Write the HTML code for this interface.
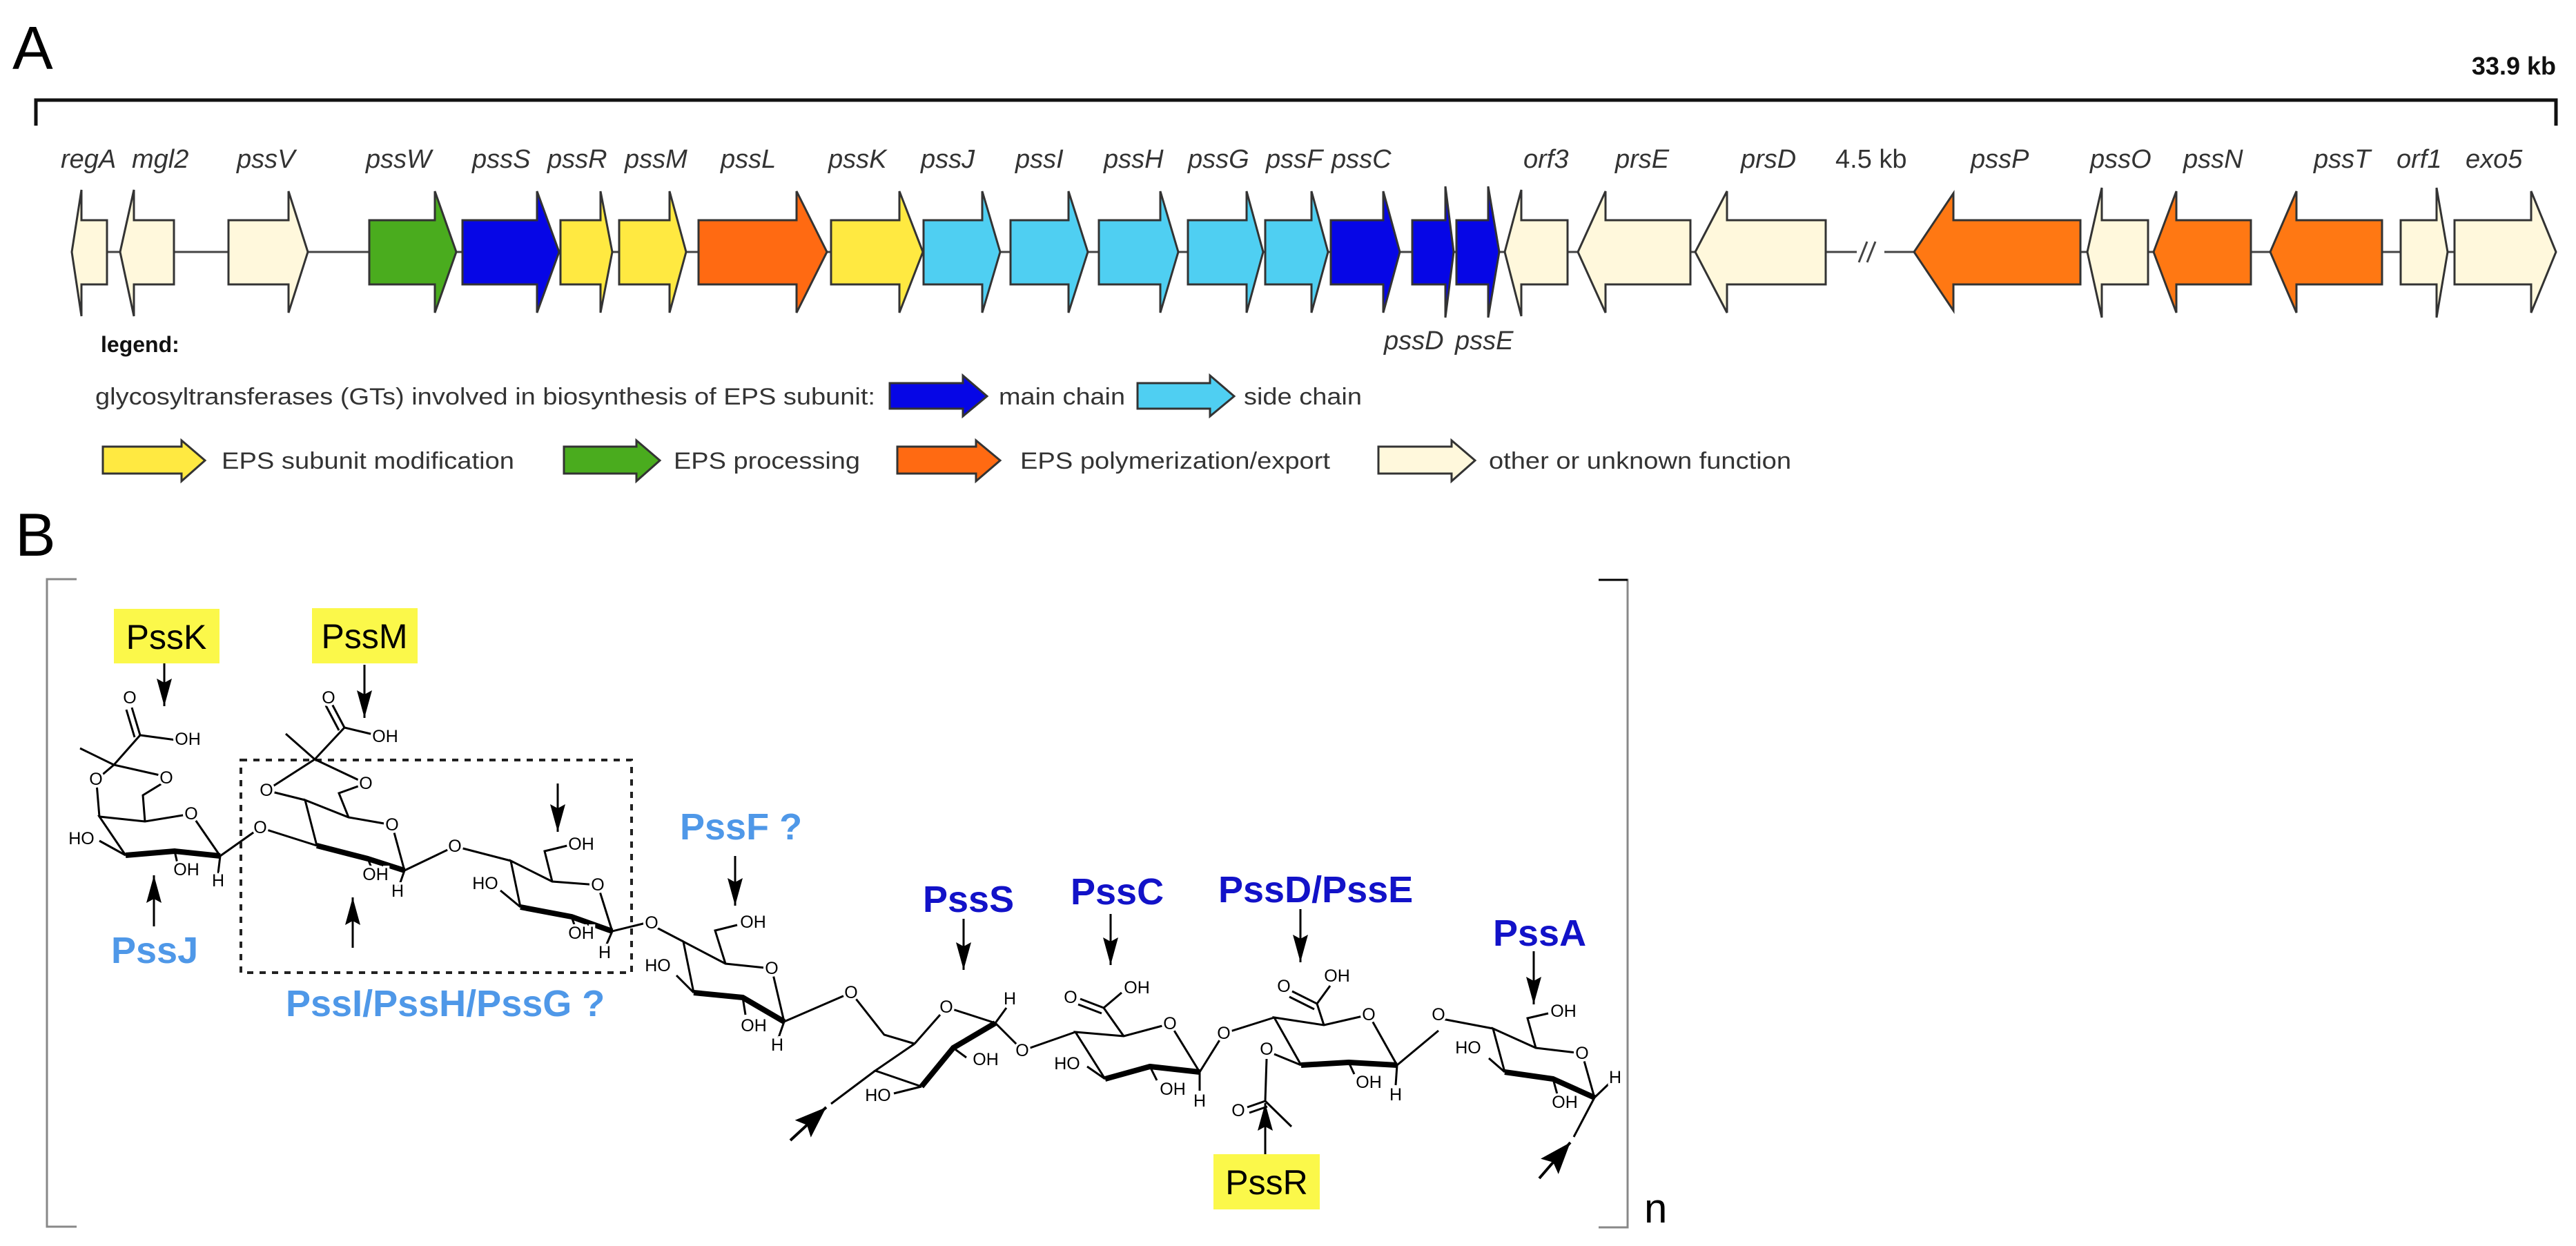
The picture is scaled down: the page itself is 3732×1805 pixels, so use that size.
<!DOCTYPE html>
<html><head><meta charset="utf-8"><style>
html,body{margin:0;padding:0;background:#fff}
svg{display:block}
text{font-family:"Liberation Sans",Arial,sans-serif}
.g{font-style:italic;font-size:38px;fill:#333}
.lg{font-size:34px;fill:#333}
.at{font-size:25px;fill:#000;stroke:#fff;stroke-width:7px;paint-order:stroke;text-anchor:middle;dominant-baseline:central}
.b{stroke:#000;stroke-width:3;fill:none}
.k{stroke:#000;stroke-width:8;fill:none;stroke-linejoin:round}
.lb{font-weight:bold;font-size:54px;fill:#4f98e8}
.db{font-weight:bold;font-size:54px;fill:#1212c8}
.yb{font-size:50px;fill:#000;text-anchor:middle}
.oc{fill:#fff}
</style></head><body>
<svg width="3732" height="1805" viewBox="0 0 3732 1805" xmlns="http://www.w3.org/2000/svg">
<defs>
<marker id="ah" viewBox="0 0 40 22" refX="40" refY="11" markerWidth="40" markerHeight="22" markerUnits="userSpaceOnUse" orient="auto"><path d="M0,0 L40,11 L0,22 L6,11 Z" fill="#000"/></marker>
<marker id="ah2" viewBox="0 0 46 34" refX="46" refY="17" markerWidth="46" markerHeight="34" markerUnits="userSpaceOnUse" orient="auto"><path d="M0,0 L46,17 L0,34 L8,17 Z" fill="#000"/></marker>
</defs>
<!-- Panel A -->
<text x="18" y="100" font-size="88" fill="#000">A</text>
<text x="3703" y="108" font-size="36" font-weight="bold" text-anchor="end" fill="#111">33.9 kb</text>
<polyline points="52,182 52,145 3703,145 3703,182" fill="none" stroke="#111" stroke-width="5"/>
<line x1="104" y1="365" x2="3703" y2="365" stroke="#444" stroke-width="3"/>
<rect x="2690" y="350" width="40" height="30" fill="#fff"/>
<line x1="2693" y1="380" x2="2705" y2="350" stroke="#444" stroke-width="3"/>
<line x1="2705" y1="380" x2="2717" y2="350" stroke="#444" stroke-width="3"/>
<g stroke="#333" stroke-width="3" stroke-linejoin="miter">
<polygon fill="#fff8dc" points="104,365 118,275 118,319 155,319 155,412 118,412 118,458"/>
<polygon fill="#fff8dc" points="174,365 194,275 194,319 252,319 252,412 194,412 194,458"/>
<polygon fill="#fff8dc" points="331,319 418,319 418,277 446,365 418,453 418,412 331,412"/>
<polygon fill="#4aac1e" points="535,319 630,319 630,277 661,365 630,453 630,412 535,412"/>
<polygon fill="#0606e6" points="670,319 778,319 778,277 810,365 778,453 778,412 670,412"/>
<polygon fill="#ffe941" points="812,319 870,319 870,277 887,365 870,453 870,412 812,412"/>
<polygon fill="#ffe941" points="897,319 970,319 970,277 994,365 970,453 970,412 897,412"/>
<polygon fill="#ff6a12" points="1012,319 1154,319 1154,277 1198,365 1154,453 1154,412 1012,412"/>
<polygon fill="#ffe941" points="1204,319 1303,319 1303,277 1337,365 1303,453 1303,412 1204,412"/>
<polygon fill="#4fcff2" points="1338,319 1423,319 1423,277 1449,365 1423,453 1423,412 1338,412"/>
<polygon fill="#4fcff2" points="1464,319 1548,319 1548,277 1576,365 1548,453 1548,412 1464,412"/>
<polygon fill="#4fcff2" points="1592,319 1681,319 1681,277 1707,365 1681,453 1681,412 1592,412"/>
<polygon fill="#4fcff2" points="1721,319 1806,319 1806,277 1830,365 1806,453 1806,412 1721,412"/>
<polygon fill="#4fcff2" points="1833,319 1900,319 1900,277 1924,365 1900,453 1900,412 1833,412"/>
<polygon fill="#0606e6" points="1928,319 2004,319 2004,277 2028,365 2004,453 2004,412 1928,412"/>
<polygon fill="#0606e6" points="2046,319 2094,319 2094,270 2106,365 2094,460 2094,412 2046,412"/>
<polygon fill="#0606e6" points="2110,319 2156,319 2156,270 2172,365 2156,460 2156,412 2110,412"/>
<polygon fill="#fff8dc" points="2180,365 2204,275 2204,319 2271,319 2271,412 2204,412 2204,458"/>
<polygon fill="#fff8dc" points="2286,365 2326,277 2326,319 2449,319 2449,412 2326,412 2326,453"/>
<polygon fill="#fff8dc" points="2456,365 2502,277 2502,319 2645,319 2645,412 2502,412 2502,453"/>
<polygon fill="#ff7813" points="2773,365 2830,280 2830,319 3014,319 3014,412 2830,412 2830,450"/>
<polygon fill="#fff8dc" points="3024,365 3045,272 3045,319 3112,319 3112,412 3045,412 3045,460"/>
<polygon fill="#ff7813" points="3120,365 3153,277 3153,319 3261,319 3261,412 3153,412 3153,453"/>
<polygon fill="#ff7813" points="3289,365 3327,277 3327,319 3451,319 3451,412 3327,412 3327,453"/>
<polygon fill="#fff8dc" points="3478,319 3530,319 3530,272 3546,365 3530,460 3530,412 3478,412"/>
<polygon fill="#fff8dc" points="3556,319 3667,319 3667,277 3703,365 3667,453 3667,412 3556,412"/>
</g>
<g class="g">
<text x="88" y="243">regA</text><text x="191" y="243">mgl2</text><text x="343" y="243">pssV</text>
<text x="530" y="243">pssW</text><text x="684" y="243">pssS</text><text x="793" y="243">pssR</text>
<text x="905" y="243">pssM</text><text x="1044" y="243">pssL</text><text x="1200" y="243">pssK</text>
<text x="1334" y="243">pssJ</text><text x="1471" y="243">pssI</text><text x="1599" y="243">pssH</text>
<text x="1721" y="243">pssG</text><text x="1834" y="243">pssF</text><text x="1929" y="243">pssC</text>
<text x="2207" y="243">orf3</text><text x="2340" y="243">prsE</text><text x="2522" y="243">prsD</text>
<text x="2659" y="243" font-style="normal">4.5 kb</text><text x="2855" y="243">pssP</text><text x="3028" y="243">pssO</text>
<text x="3163" y="243">pssN</text><text x="3352" y="243">pssT</text><text x="3472" y="243">orf1</text>
<text x="3572" y="243">exo5</text>
<text x="2005" y="506">pssD</text><text x="2108" y="506">pssE</text>
</g>
<text x="146" y="510" font-size="32" font-weight="bold" fill="#111">legend:</text>
<text class="lg" x="138" y="586" textLength="1130" lengthAdjust="spacingAndGlyphs">glycosyltransferases (GTs) involved in biosynthesis of EPS subunit:</text>
<g stroke="#333" stroke-width="3">
<polygon fill="#0606e6" points="1289,555 1395,555 1395,544 1430,574 1395,603 1395,592 1289,592"/>
<polygon fill="#4fcff2" points="1648,555 1753,555 1753,544 1788,574 1753,603 1753,592 1648,592"/>
<polygon fill="#ffe941" points="149,647 263,647 263,638 297,667 263,697 263,686 149,686"/>
<polygon fill="#4aac1e" points="817,647 922,647 922,638 956,667 922,697 922,686 817,686"/>
<polygon fill="#ff6a12" points="1300,647 1414,647 1414,638 1449,667 1414,697 1414,686 1300,686"/>
<polygon fill="#fff8dc" points="1997,647 2103,647 2103,638 2137,667 2103,697 2103,686 1997,686"/>
</g>
<text class="lg" x="1447" y="586" textLength="183" lengthAdjust="spacingAndGlyphs">main chain</text>
<text class="lg" x="1802" y="586" textLength="171" lengthAdjust="spacingAndGlyphs">side chain</text>
<text class="lg" x="321" y="679" textLength="424" lengthAdjust="spacingAndGlyphs">EPS subunit modification</text>
<text class="lg" x="976" y="679" textLength="270" lengthAdjust="spacingAndGlyphs">EPS processing</text>
<text class="lg" x="1478" y="679" textLength="449" lengthAdjust="spacingAndGlyphs">EPS polymerization/export</text>
<text class="lg" x="2157" y="679" textLength="438" lengthAdjust="spacingAndGlyphs">other or unknown function</text>

<!-- Panel B -->
<text x="22" y="805" font-size="88" fill="#000">B</text>
<polyline points="111,839 68,839 68,1777 111,1777" fill="none" stroke="#888" stroke-width="3"/>
<polyline points="2316,840 2358,840 2358,1778 2316,1778" fill="none" stroke="#888" stroke-width="3"/>
<line x1="2316" y1="840" x2="2358" y2="840" stroke="#000" stroke-width="3"/>
<text x="2382" y="1771" font-size="60" fill="#000">n</text>

<rect x="165" y="882" width="153" height="79" fill="#fbf84a"/>
<text class="yb" x="241" y="940">PssK</text>
<rect x="452" y="881" width="153" height="80" fill="#fbf84a"/>
<text class="yb" x="528" y="939">PssM</text>
<rect x="1758" y="1672" width="154" height="80" fill="#fbf84a"/>
<text class="yb" x="1835" y="1730">PssR</text>

<rect x="349" y="1101" width="566" height="308" fill="none" stroke="#222" stroke-width="4" stroke-dasharray="9,9"/>

<g stroke="#000" stroke-width="3" marker-end="url(#ah)">
<line x1="238" y1="961" x2="238" y2="1023"/>
<line x1="528" y1="963" x2="528" y2="1040"/>
<line x1="808" y1="1135" x2="808" y2="1205"/>
<line x1="223" y1="1342" x2="223" y2="1268"/>
<line x1="511" y1="1373" x2="511" y2="1300"/>
<line x1="1065" y1="1240" x2="1065" y2="1312"/>
<line x1="1396" y1="1331" x2="1396" y2="1405"/>
<line x1="1609" y1="1324" x2="1609" y2="1398"/>
<line x1="1884" y1="1317" x2="1884" y2="1394"/>
<line x1="1833" y1="1672" x2="1833" y2="1598"/>
<line x1="2222" y1="1378" x2="2222" y2="1455"/>
</g>
<g stroke="#000" stroke-width="4" marker-end="url(#ah2)">
<line x1="1145" y1="1652" x2="1197" y2="1604"/>
<line x1="2230" y1="1707" x2="2275" y2="1655"/>
</g>

<text class="lb" x="161" y="1395">PssJ</text>
<text class="lb" x="414" y="1472">PssI/PssH/PssG ?</text>
<text class="lb" x="985" y="1216">PssF ?</text>
<text class="db" x="1337" y="1321">PssS</text>
<text class="db" x="1551" y="1310">PssC</text>
<text class="db" x="1765" y="1307">PssD/PssE</text>
<text class="db" x="2163" y="1370">PssA</text>

<!-- sugar 1 -->
<g>
<polyline class="b" points="116,1084 165,1108 236,1124"/>
<line class="b" x1="165" y1="1108" x2="203" y2="1065"/>
<line class="b" x1="165" y1="1108" x2="145" y2="1125"/>
<line class="b" x1="203" y1="1065" x2="191" y2="1025"/>
<line class="b" x1="195" y1="1068" x2="183" y2="1028"/>
<line class="b" x1="203" y1="1065" x2="255" y2="1072"/>
<line class="b" x1="140" y1="1135" x2="144" y2="1183"/>
<polyline class="b" points="238,1133 207,1152 210,1190"/>
<polyline class="b" points="182,1239 144,1183 210,1190 277,1179 319,1240"/>
<polyline class="k" points="182,1239 253,1233 319,1240"/>
<line class="b" x1="144" y1="1218" x2="182" y2="1239"/>
<line class="b" x1="253" y1="1233" x2="258" y2="1255"/>
<line class="b" x1="319" y1="1240" x2="316" y2="1265"/>
<line class="b" x1="319" y1="1240" x2="377" y2="1199"/>
</g>
<!-- sugar 2 -->
<g>
<line class="b" x1="377" y1="1199" x2="459" y2="1225"/>
<polyline class="b" points="414,1063 456,1100 530,1135"/>
<line class="b" x1="456" y1="1100" x2="499" y2="1054"/>
<line class="b" x1="456" y1="1100" x2="386" y2="1145"/>
<line class="b" x1="499" y1="1054" x2="480" y2="1018"/>
<line class="b" x1="491" y1="1058" x2="472" y2="1022"/>
<line class="b" x1="499" y1="1054" x2="545" y2="1065"/>
<line class="b" x1="386" y1="1145" x2="442" y2="1159"/>
<polyline class="b" points="530,1135 491,1149 505,1184"/>
<polyline class="b" points="459,1225 442,1159 505,1184 568,1195 586,1261"/>
<polyline class="k" points="459,1225 533,1244 586,1261"/>
<line class="b" x1="533" y1="1244" x2="540" y2="1262"/>
<line class="b" x1="586" y1="1261" x2="578" y2="1284"/>
<line class="b" x1="586" y1="1261" x2="659" y2="1226"/>
</g>
<!-- sugar 3 -->
<g>
<line class="b" x1="659" y1="1226" x2="740" y2="1247"/>
<polyline class="b" points="754,1314 740,1247 800,1277 866,1282 887,1349"/>
<polyline class="k" points="754,1314 828,1328 887,1349"/>
<polyline class="b" points="800,1277 789,1233 822,1225"/>
<line class="b" x1="725" y1="1290" x2="754" y2="1314"/>
<line class="b" x1="828" y1="1328" x2="834" y2="1345"/>
<line class="b" x1="887" y1="1349" x2="878" y2="1370"/>
<line class="b" x1="887" y1="1349" x2="944" y2="1335"/>
</g>
<!-- sugar 4 -->
<g>
<line class="b" x1="944" y1="1340" x2="990" y2="1364"/>
<polyline class="b" points="1005,1438 990,1364 1051,1396 1118,1403 1136,1480"/>
<polyline class="k" points="1005,1438 1076,1445 1136,1480"/>
<polyline class="b" points="1051,1396 1036,1348 1068,1340"/>
<line class="b" x1="980" y1="1413" x2="1005" y2="1438"/>
<line class="b" x1="1076" y1="1445" x2="1080" y2="1470"/>
<line class="b" x1="1136" y1="1480" x2="1128" y2="1503"/>
<polyline class="b" points="1136,1480 1233,1438"/>
</g>
<!-- sugar 5 -->
<g>
<polyline class="b" points="1233,1438 1281,1499 1325,1512"/>
<line class="b" x1="1325" y1="1512" x2="1362" y2="1470"/>
<line class="b" x1="1380" y1="1462" x2="1442" y2="1482"/>
<line class="b" x1="1442" y1="1482" x2="1458" y2="1460"/>
<line class="b" x1="1442" y1="1482" x2="1475" y2="1515"/>
<polyline class="k" points="1442,1482 1381,1518 1335,1574"/>
<polyline class="b" points="1335,1574 1268,1551 1325,1512"/>
<line class="b" x1="1268" y1="1551" x2="1204" y2="1599"/>
<line class="b" x1="1381" y1="1518" x2="1400" y2="1532"/>
<line class="b" x1="1335" y1="1574" x2="1295" y2="1584"/>
</g>
<!-- sugar 6 -->
<g>
<line class="b" x1="1481" y1="1522" x2="1558" y2="1495"/>
<polyline class="b" points="1601,1563 1558,1495 1628,1501 1695,1483 1738,1553"/>
<polyline class="k" points="1601,1563 1666,1545 1738,1553"/>
<line class="b" x1="1628" y1="1501" x2="1599" y2="1460"/>
<line class="b" x1="1599" y1="1460" x2="1565" y2="1447"/>
<line class="b" x1="1596" y1="1468" x2="1562" y2="1455"/>
<line class="b" x1="1599" y1="1460" x2="1625" y2="1438"/>
<line class="b" x1="1575" y1="1545" x2="1601" y2="1563"/>
<line class="b" x1="1666" y1="1545" x2="1676" y2="1565"/>
<line class="b" x1="1738" y1="1553" x2="1738" y2="1580"/>
<line class="b" x1="1738" y1="1553" x2="1773" y2="1497"/>
</g>
<!-- sugar 7 -->
<g>
<line class="b" x1="1773" y1="1497" x2="1846" y2="1474"/>
<polyline class="b" points="1885,1543 1846,1474 1918,1485 1983,1470 2024,1543"/>
<polyline class="k" points="1885,1543 1954,1539 2024,1543"/>
<line class="b" x1="1918" y1="1485" x2="1908" y2="1454"/>
<line class="b" x1="1908" y1="1454" x2="1872" y2="1436"/>
<line class="b" x1="1904" y1="1462" x2="1868" y2="1444"/>
<line class="b" x1="1908" y1="1454" x2="1927" y2="1428"/>
<line class="b" x1="1846" y1="1527" x2="1885" y2="1543"/>
<line class="b" x1="1835" y1="1534" x2="1833" y2="1595"/>
<line class="b" x1="1833" y1="1595" x2="1807" y2="1604"/>
<line class="b" x1="1836" y1="1603" x2="1810" y2="1612"/>
<line class="b" x1="1833" y1="1595" x2="1871" y2="1632"/>
<line class="b" x1="1954" y1="1539" x2="1962" y2="1556"/>
<line class="b" x1="2024" y1="1543" x2="2022" y2="1572"/>
<line class="b" x1="2024" y1="1543" x2="2084" y2="1493"/>
</g>
<!-- sugar 8 -->
<g>
<line class="b" x1="2084" y1="1475" x2="2163" y2="1490"/>
<polyline class="b" points="2180,1553 2163,1490 2225,1518 2292,1526 2310,1590"/>
<polyline class="k" points="2180,1553 2250,1563 2310,1590"/>
<polyline class="b" points="2225,1518 2213,1475 2243,1468"/>
<line class="b" x1="2157" y1="1533" x2="2180" y2="1553"/>
<line class="b" x1="2250" y1="1563" x2="2256" y2="1585"/>
<line class="b" x1="2310" y1="1590" x2="2333" y2="1568"/>
<line class="b" x1="2310" y1="1590" x2="2280" y2="1647"/>
</g>

<!-- white discs behind ring/link O atoms -->
<g class="oc">
<circle cx="188" cy="1011" r="12"/><circle cx="139" cy="1129" r="12"/><circle cx="241" cy="1127" r="12"/><circle cx="277" cy="1179" r="12"/>
<circle cx="476" cy="1011" r="12"/><circle cx="386" cy="1145" r="12"/><circle cx="530" cy="1135" r="12"/><circle cx="377" cy="1199" r="12"/><circle cx="568" cy="1195" r="12"/>
<circle cx="659" cy="1226" r="12"/><circle cx="866" cy="1282" r="12"/>
<circle cx="944" cy="1337" r="12"/><circle cx="1118" cy="1403" r="12"/>
<circle cx="1233" cy="1438" r="12"/><circle cx="1371" cy="1459" r="12"/>
<circle cx="1481" cy="1522" r="12"/><circle cx="1695" cy="1483" r="12"/><circle cx="1551" cy="1445" r="12"/>
<circle cx="1773" cy="1497" r="12"/><circle cx="1983" cy="1470" r="12"/><circle cx="1860" cy="1429" r="12"/><circle cx="1835" cy="1520" r="12"/><circle cx="1794" cy="1609" r="12"/>
<circle cx="2084" cy="1470" r="12"/><circle cx="2292" cy="1526" r="12"/>
</g>
<g>
<text class="at" x="188" y="1011">O</text><text class="at" x="272" y="1071">OH</text>
<text class="at" x="139" y="1129">O</text><text class="at" x="241" y="1127">O</text>
<text class="at" x="277" y="1179">O</text>
<text class="at" x="118" y="1215">HO</text><text class="at" x="270" y="1260">OH</text><text class="at" x="316" y="1276">H</text>
<text class="at" x="476" y="1011">O</text><text class="at" x="558" y="1067">OH</text>
<text class="at" x="386" y="1145">O</text><text class="at" x="530" y="1135">O</text>
<text class="at" x="377" y="1199">O</text><text class="at" x="568" y="1195">O</text>
<text class="at" x="544" y="1267">OH</text><text class="at" x="576" y="1291">H</text>
<text class="at" x="659" y="1226">O</text><text class="at" x="866" y="1282">O</text>
<text class="at" x="842" y="1223">OH</text><text class="at" x="703" y="1280">HO</text>
<text class="at" x="842" y="1352">OH</text><text class="at" x="876" y="1380">H</text>
<text class="at" x="944" y="1337">O</text><text class="at" x="1118" y="1403">O</text>
<text class="at" x="1091" y="1336">OH</text><text class="at" x="953" y="1399">HO</text>
<text class="at" x="1092" y="1486">OH</text><text class="at" x="1126" y="1514">H</text>
<text class="at" x="1233" y="1438">O</text><text class="at" x="1371" y="1459">O</text>
<text class="at" x="1463" y="1447">H</text><text class="at" x="1428" y="1535">OH</text>
<text class="at" x="1272" y="1587">HO</text>
<text class="at" x="1481" y="1522">O</text><text class="at" x="1695" y="1483">O</text>
<text class="at" x="1551" y="1445">O</text><text class="at" x="1647" y="1431">OH</text>
<text class="at" x="1546" y="1541">HO</text><text class="at" x="1699" y="1578">OH</text>
<text class="at" x="1738" y="1595">H</text>
<text class="at" x="1773" y="1497">O</text><text class="at" x="1983" y="1470">O</text>
<text class="at" x="1860" y="1429">O</text><text class="at" x="1937" y="1414">OH</text>
<text class="at" x="1835" y="1520">O</text><text class="at" x="1794" y="1609">O</text>
<text class="at" x="1983" y="1568">OH</text><text class="at" x="2022" y="1586">H</text>
<text class="at" x="2084" y="1470">O</text><text class="at" x="2292" y="1526">O</text>
<text class="at" x="2265" y="1465">OH</text><text class="at" x="2127" y="1518">HO</text>
<text class="at" x="2267" y="1597">OH</text><text class="at" x="2340" y="1561">H</text>
</g>
</svg>
</body></html>
